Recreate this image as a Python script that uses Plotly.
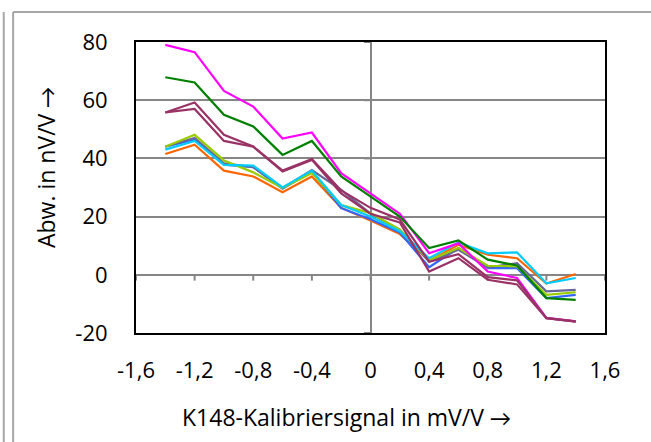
import plotly.graph_objects as go

# Calibration signal steps (mV/V)
signal = [-1.4, -1.2, -1.0, -0.8, -0.6, -0.4, -0.2, 0.0, 0.2, 0.4, 0.6, 0.8, 1.0, 1.2, 1.4]

# Deviation curves (nV/V)
dev_orange = [41.5, 44.7, 35.8, 33.8, 28.4, 33.8, 23.0, 18.7, 14.0, 4.9, 10.3, 6.9, 5.7, -3.0, 0.3]
dev_blue = [44.0, 46.4, 37.8, 37.0, 29.6, 35.5, 22.9, 19.1, 14.5, 2.6, 9.2, 2.3, 2.3, -8.0, -6.9]
dev_slate = [44.1, 47.0, 38.3, 37.0, 29.8, 36.0, 29.2, 21.0, 15.5, 4.5, 8.6, 2.5, 4.0, -5.7, -5.2]
dev_lime = [44.0, 48.1, 39.3, 35.2, 29.8, 35.0, 24.0, 21.2, 15.5, 5.0, 9.2, 3.1, 2.9, -6.9, -6.0]
dev_cyan = [43.0, 46.0, 37.8, 37.5, 30.0, 35.8, 24.0, 20.0, 15.0, 5.7, 11.1, 7.4, 7.7, -2.9, -1.1]
dev_magenta = [79.0, 76.5, 63.2, 57.8, 46.8, 48.9, 34.9, 28.0, 21.0, 7.4, 10.8, 1.1, -1.1, -14.8, -16.0]
dev_green = [67.9, 66.1, 55.0, 51.0, 41.2, 46.0, 33.8, 27.0, 20.0, 9.2, 11.8, 5.2, 3.2, -8.0, -8.6]
dev_plum_a = [55.8, 59.2, 48.1, 44.1, 35.8, 39.8, 29.0, 23.0, 19.0, 4.5, 7.1, -0.8, -1.9, -14.9, -16.0]
dev_plum_b = [55.8, 57.0, 46.0, 44.0, 35.5, 39.5, 28.0, 21.0, 18.0, 1.1, 5.7, -1.7, -3.3, -14.9, -16.1]

series = [
    (dev_orange, "#FF6600"),
    (dev_blue, "#3366FF"),
    (dev_slate, "#666699"),
    (dev_lime, "#99CC00"),
    (dev_cyan, "#00CCFF"),
    (dev_magenta, "#FF00FF"),
    (dev_green, "#008000"),
    (dev_plum_a, "#993366"),
    (dev_plum_b, "#993366"),
]

x_ticks = [-1.6, -1.2, -0.8, -0.4, 0, 0.4, 0.8, 1.2, 1.6]
x_tick_text = ["-1,6", "-1,2", "-0,8", "-0,4", "0", "0,4", "0,8", "1,2", "1,6"]
y_ticks = [-20, 0, 20, 40, 60, 80]
y_tick_text = ["-20", "0", "20", "40", "60", "80"]

FONT = "'Open Sans', Calibri, 'Liberation Sans', sans-serif"
AXIS_GREY = "#868686"

fig = go.Figure()
for values, color in series:
    fig.add_trace(go.Scatter(x=signal, y=values, mode="lines",
                             line=dict(color=color, width=2.2),
                             showlegend=False, hoverinfo="x+y"))

shapes = []
# small tick marks on the crossing axes (x axis at y=0, y axis at x=0)
for xv in x_ticks:
    shapes.append(dict(type="line", xref="x", yref="y", x0=xv, x1=xv, y0=0, y1=-2.0,
                       line=dict(color=AXIS_GREY, width=2), layer="below"))
for yv in y_ticks:
    shapes.append(dict(type="line", xref="x", yref="y", x0=0, x1=-0.045, y0=yv, y1=yv,
                       line=dict(color=AXIS_GREY, width=2), layer="below"))
# outer chart frame
shapes.append(dict(type="line", xref="paper", yref="paper", x0=-0.262, x1=-0.262, y0=-0.40, y1=1.103,
                   line=dict(color="#A6A6A6", width=2)))
shapes.append(dict(type="line", xref="paper", yref="paper", x0=-0.262, x1=1.2, y0=1.103, y1=1.103,
                   line=dict(color="#A6A6A6", width=2)))
shapes.append(dict(type="line", xref="paper", yref="paper", x0=-0.282, x1=-0.282, y0=-0.40, y1=1.103,
                   line=dict(color="#A6A6A6", width=2)))

fig.update_layout(
    width=651, height=442,
    margin=dict(l=136, r=46, t=42, b=109),
    paper_bgcolor="white", plot_bgcolor="white",
    font=dict(family=FONT, size=22, color="black"),
    shapes=shapes,
    xaxis=dict(range=[-1.6, 1.6], tickvals=x_ticks, ticktext=x_tick_text,
               showgrid=False, zeroline=True, zerolinecolor=AXIS_GREY, zerolinewidth=2,
               showline=True, mirror=True, linecolor="black", linewidth=2,
               ticks="", ticklabelstandoff=17, tickfont=dict(size=22)),
    yaxis=dict(range=[-20, 80], tickvals=y_ticks, ticktext=y_tick_text,
               showgrid=True, gridcolor=AXIS_GREY, gridwidth=2,
               zeroline=True, zerolinecolor=AXIS_GREY, zerolinewidth=2,
               showline=True, mirror=True, linecolor="black", linewidth=2,
               ticks="", ticklabelstandoff=22, tickfont=dict(size=22)),
    annotations=[
        dict(text="K148-Kalibriersignal in mV/V →", xref="paper", yref="paper",
             x=(346 - 136) / 469, y=(333 - 417) / 291, xanchor="center", yanchor="middle",
             showarrow=False, font=dict(size=23)),
        dict(text="Abw. in nV/V →", xref="paper", yref="paper", textangle=-90,
             x=(46 - 136) / 469, y=(333 - 168) / 291, xanchor="center", yanchor="middle",
             showarrow=False, font=dict(size=23)),
    ],
)

fig.write_html("out.html")
